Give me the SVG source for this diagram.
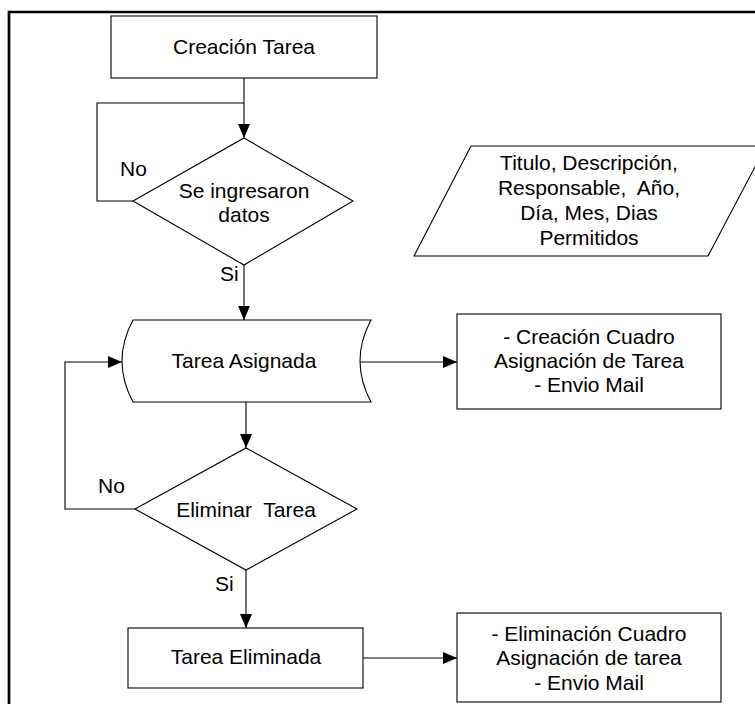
<svg xmlns="http://www.w3.org/2000/svg" width="755" height="704" viewBox="0 0 755 704">
<defs>
<marker id="arr" markerUnits="userSpaceOnUse" markerWidth="14" markerHeight="12" refX="14" refY="6" orient="auto">
<path d="M0,0 L14,6 L0,12 z" fill="#000"/>
</marker>
<style>
.shape{fill:#fff;stroke:#000;stroke-width:1.1}
.conn{fill:none;stroke:#000;stroke-width:1.1}
.arrow{marker-end:url(#arr)}
text{font-family:"Liberation Sans",Arial,sans-serif;font-size:21px;fill:#000;text-anchor:middle}
.lbl{text-anchor:start}
</style>
</defs>
<rect width="755" height="704" fill="#fff"/>
<path d="M9,704 L9,12 L755,12" fill="none" stroke="#000" stroke-width="2.7"/>

<g id="connectors">
<path class="conn arrow" d="M244,78 L244,138"/>
<path class="conn" d="M133,201 L97,201 L97,103 L244,103"/>
<path class="conn arrow" d="M244,265 L244,320"/>
<path class="conn arrow" d="M360,362 L457,362"/>
<path class="conn arrow" d="M246,402 L246,448"/>
<path class="conn arrow" d="M135,509 L65,509 L65,362 L122,362"/>
<path class="conn arrow" d="M246,570 L246,628"/>
<path class="conn arrow" d="M363,658 L457,658"/>
</g>

<g id="creacion-tarea">
<rect class="shape" x="111" y="16" width="266" height="62"/>
<text x="244" y="54">Creación Tarea</text>
</g>

<g id="se-ingresaron">
<polygon class="shape" points="244,138 353,201 244,265 133,201"/>
<text x="244" y="198">Se ingresaron</text>
<text x="244" y="222">datos</text>
</g>
<g id="label-no-1"><text class="lbl" x="120" y="176">No</text></g>
<g id="label-si-1"><text class="lbl" x="220" y="281">Si</text></g>

<g id="datos-entrada">
<polygon class="shape" points="471,146 766,146 708,256 414,256"/>
<text x="589" y="170">Titulo, Descripción,</text>
<text x="589" y="195" xml:space="preserve">Responsable,  Año,</text>
<text x="589" y="220">Día, Mes, Dias</text>
<text x="589" y="245">Permitidos</text>
</g>

<g id="tarea-asignada">
<path class="shape" d="M133,320 L371,320 Q349,361 371,402 L133,402 Q111,361 133,320 Z"/>
<text x="244" y="368">Tarea Asignada</text>
</g>

<g id="creacion-cuadro">
<rect class="shape" x="457" y="314" width="264" height="95"/>
<text x="589" y="344">- Creación Cuadro</text>
<text x="589" y="368">Asignación de Tarea</text>
<text x="589" y="392">- Envio Mail</text>
</g>

<g id="eliminar-tarea">
<polygon class="shape" points="246,448 357,509 246,570 135,509"/>
<text x="246" y="517" xml:space="preserve">Eliminar  Tarea</text>
</g>
<g id="label-no-2"><text class="lbl" x="98" y="493">No</text></g>
<g id="label-si-2"><text class="lbl" x="215" y="591">Si</text></g>

<g id="tarea-eliminada">
<rect class="shape" x="128" y="628" width="235" height="60"/>
<text x="246" y="664">Tarea Eliminada</text>
</g>

<g id="eliminacion-cuadro">
<rect class="shape" x="457" y="613" width="264" height="89"/>
<text x="589" y="641">- Eliminación Cuadro</text>
<text x="589" y="665">Asignación de tarea</text>
<text x="589" y="690">- Envio Mail</text>
</g>
</svg>
